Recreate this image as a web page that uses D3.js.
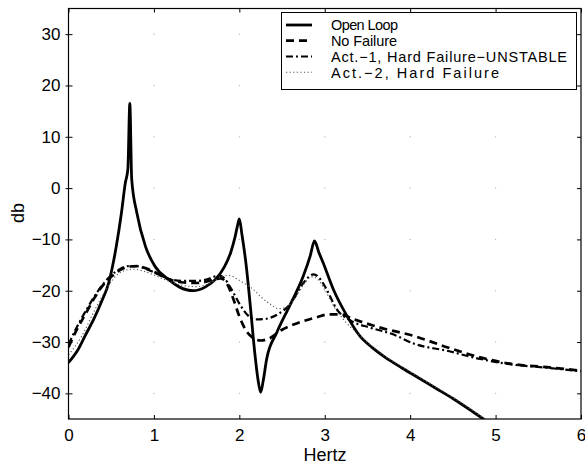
<!DOCTYPE html>
<html>
<head>
<meta charset="utf-8">
<script src="https://cdn.jsdelivr.net/npm/d3@7"></script>
<style>
  body { margin: 0; background: #fff; }
  text { font-family: "Liberation Sans", Arial, Helvetica, sans-serif; fill: #000; }
</style>
</head>
<body>
<svg id="chart" width="585" height="469"></svg>
<script>
// Axis ticks
const xTicks = [0, 1, 2, 3, 4, 5, 6];
const yTicks = [-40, -30, -20, -10, 0, 10, 20, 30];

// Open loop response
const openHz = [0, 0.1, 0.2, 0.3, 0.39, 0.47, 0.56, 0.62, 0.665, 0.695, 0.718, 0.74, 0.80, 0.90, 1.01, 1.17, 1.30, 1.46, 1.60, 1.72, 1.82, 1.90, 1.95, 1.98, 2.0, 2.03, 2.08, 2.125, 2.18, 2.22, 2.25, 2.28, 2.32, 2.44, 2.59, 2.75, 2.83, 2.88, 2.93, 2.98, 3.10, 3.26, 3.41, 3.55, 3.7, 3.9, 4.1, 4.3, 4.5, 4.7, 4.9];
const openDb = [-34, -31.8, -28.6, -25.4, -22.0, -18.5, -11.3, -4.8, 1.0, 3.7, 16.5, 1.7, -4.8, -11.3, -15.2, -17.8, -19.3, -20.0, -19.3, -17.8, -15.5, -12.5, -9.5, -7.2, -6.0, -9.0, -15.0, -22.3, -32.0, -37.5, -39.8, -37.5, -33.3, -28.1, -22.9, -17.1, -13.2, -10.3, -12.5, -14.5, -19.7, -24.9, -28.8, -31.0, -32.9, -35.0, -37.0, -39.0, -41.0, -43.2, -45.5];

// Closed loop, no failure
const noFailHz = [0, 0.1, 0.2, 0.3, 0.4, 0.5, 0.6, 0.7, 0.8, 0.9, 1.0, 1.1, 1.2, 1.35, 1.5, 1.6, 1.7, 1.78, 1.85, 1.93, 2.0, 2.08, 2.17, 2.25, 2.35, 2.5, 2.7, 2.9, 3.05, 3.18, 3.33, 3.65, 4.04, 4.43, 4.82, 5.2, 5.6, 6.0];
const noFailDb = [-31, -27.5, -24.5, -21.5, -19, -17.3, -16, -15.3, -15.2, -15.6, -16.3, -17.2, -17.9, -18.4, -18.5, -18.3, -17.8, -17.6, -18.5, -21.6, -25, -27.8, -29.3, -29.7, -29.3, -27.6, -26.2, -25.2, -24.6, -24.6, -25.5, -27.2, -28.8, -31.0, -33.0, -34.3, -34.9, -35.6];

// Closed loop, actuator 1 hard failure
const act1Hz = [0, 0.1, 0.2, 0.3, 0.4, 0.5, 0.6, 0.7, 0.8, 0.9, 1.0, 1.1, 1.2, 1.35, 1.5, 1.6, 1.7, 1.76, 1.82, 1.9, 2.0, 2.1, 2.2, 2.3, 2.45, 2.6, 2.75, 2.87, 2.95, 3.02, 3.14, 3.3, 3.53, 3.8, 4.04, 4.43, 4.82, 5.2, 5.6, 6.0];
const act1Db = [-30.5, -27, -24, -21.2, -18.8, -17, -15.8, -15.2, -15.2, -15.7, -16.4, -17.2, -17.8, -18.1, -18.1, -17.9, -17.3, -17.0, -17.5, -19.5, -22.5, -24.8, -25.6, -25.5, -24.6, -22.5, -18.5, -16.8, -17.8, -19.7, -23.6, -25.8, -27.2, -28.5, -30.3, -31.7, -33.3, -34.4, -35.0, -35.7];

// Closed loop, actuator 2 hard failure
const act2Hz = [0, 0.15, 0.3, 0.45, 0.6, 0.75, 0.9, 1.05, 1.2, 1.35, 1.5, 1.65, 1.78, 1.88, 1.98, 2.08, 2.16, 2.26, 2.36, 2.46, 2.55, 2.65, 2.75, 2.85, 2.92, 3.0, 3.12, 3.25, 3.4, 3.55, 3.7, 3.9, 4.1, 4.3, 4.5, 4.7, 4.9];
const act2Db = [-32.5, -29, -24, -19.5, -16.5, -15.8, -16.3, -17.3, -18.3, -19, -19.2, -18.6, -17.4, -17.0, -17.8, -18.8, -19.7, -21.3, -22.6, -23.5, -23.2, -21.5, -18.8, -17.3, -17.8, -19.8, -23.4, -26.2, -28.6, -30.8, -32.7, -34.8, -36.8, -38.8, -40.8, -43.0, -45.3];

const legendLabels = ["Open Loop", "No Failure", "Act.\u22121, Hard Failure\u2212UNSTABLE", "Act.\u22122, Hard Failure"];
const legendWidths = [67, 66, 236, 168];

const series = [
  { hz: openHz, db: openDb, width: 2.8, dash: null, color: "#000" },
  { hz: noFailHz, db: noFailDb, width: 2.7, dash: "8,5", color: "#000" },
  { hz: act1Hz, db: act1Db, width: 2.2, dash: "7,3,2,3", color: "#000" },
  { hz: act2Hz, db: act2Db, width: 1.1, dash: "1.2,2.4", color: "#555" }
];

const svg = d3.select("#chart");
const plotLeft = 68.5, plotRight = 581, plotTop = 8.5, plotBottom = 419;

const x = d3.scaleLinear().domain([0, 6]).range([plotLeft, plotRight]);
const y = d3.scaleLinear().domain([-45, 35]).range([plotBottom, plotTop]);

svg.append("defs").append("clipPath").attr("id", "plotClip")
  .append("rect").attr("x", plotLeft).attr("y", plotTop)
  .attr("width", plotRight - plotLeft).attr("height", plotBottom - plotTop);

// faint grid remnants at tick intersections
const gridDots = svg.append("g");
xTicks.slice(1, -1).forEach(hx => yTicks.forEach(dv => {
  gridDots.append("rect").attr("x", x(hx) - 0.5).attr("y", y(dv) - 0.5)
    .attr("width", 1.1).attr("height", 1.1).attr("fill", "#b0b0b0");
}));

// curves
const line = d3.line().curve(d3.curveMonotoneX);
const plot = svg.append("g").attr("clip-path", "url(#plotClip)");
series.forEach(s => {
  const pts = s.hz.map((h, i) => [x(h), y(s.db[i])]);
  plot.append("path")
    .attr("d", line(pts))
    .attr("fill", "none")
    .attr("stroke", s.color)
    .attr("stroke-width", s.width)
    .attr("stroke-dasharray", s.dash)
    .attr("stroke-linejoin", "round");
});

// frame
svg.append("rect").attr("x", plotLeft).attr("y", plotTop)
  .attr("width", plotRight - plotLeft).attr("height", plotBottom - plotTop)
  .attr("fill", "none").attr("stroke", "#000").attr("stroke-width", 1.2);

// axes
const fmt = d => d < 0 ? "\u2212" + Math.abs(d) : String(d);
const yAxis = svg.append("g").attr("transform", `translate(${plotLeft},0)`)
  .call(d3.axisLeft(y).tickValues(yTicks).tickSize(-4).tickPadding(8).tickFormat(fmt));
const xAxis = svg.append("g").attr("transform", `translate(0,${plotBottom})`)
  .call(d3.axisBottom(x).tickValues(xTicks).tickSize(-4).tickPadding(10).tickFormat(fmt));
svg.append("g").attr("transform", `translate(${plotRight},0)`)
  .call(d3.axisRight(y).tickValues(yTicks).tickSize(-4).tickFormat(""));
svg.append("g").attr("transform", `translate(0,${plotTop})`)
  .call(d3.axisTop(x).tickValues(xTicks).tickSize(-4).tickFormat(""));
// short outer stubs on the left axis
svg.append("g").attr("transform", `translate(${plotLeft},0)`)
  .call(d3.axisLeft(y).tickValues(yTicks).tickSize(3).tickFormat(""));
svg.selectAll(".domain").remove();
svg.selectAll(".tick line").attr("stroke", "#000");
yAxis.selectAll("text").attr("font-size", 17).attr("font-family", null);
xAxis.selectAll("text").attr("font-size", 17).attr("font-family", null);

// axis titles
svg.append("text").attr("x", 325).attr("y", 461).attr("text-anchor", "middle")
  .attr("font-size", 18).text("Hertz");
svg.append("text").attr("transform", "translate(24,213) rotate(-90)").attr("text-anchor", "middle")
  .attr("font-size", 18).text("db");

// legend
const lg = svg.append("g");
lg.append("rect").attr("x", 281.5).attr("y", 12.5).attr("width", 295).attr("height", 77)
  .attr("fill", "#fff").attr("stroke", "#000").attr("stroke-width", 1);
const rowY = [25, 40.7, 56.5, 72.3];
series.forEach((s, i) => {
  lg.append("line").attr("x1", 286).attr("x2", 312).attr("y1", rowY[i]).attr("y2", rowY[i])
    .attr("stroke", s.color).attr("stroke-width", s.width).attr("stroke-dasharray", s.dash);
  lg.append("text").attr("x", 331).attr("y", rowY[i]).attr("dy", "0.36em")
    .attr("font-size", 14.5)
    .attr("textLength", legendWidths[i]).attr("lengthAdjust", "spacing")
    .text(legendLabels[i]);
});
</script>
</body>
</html>
